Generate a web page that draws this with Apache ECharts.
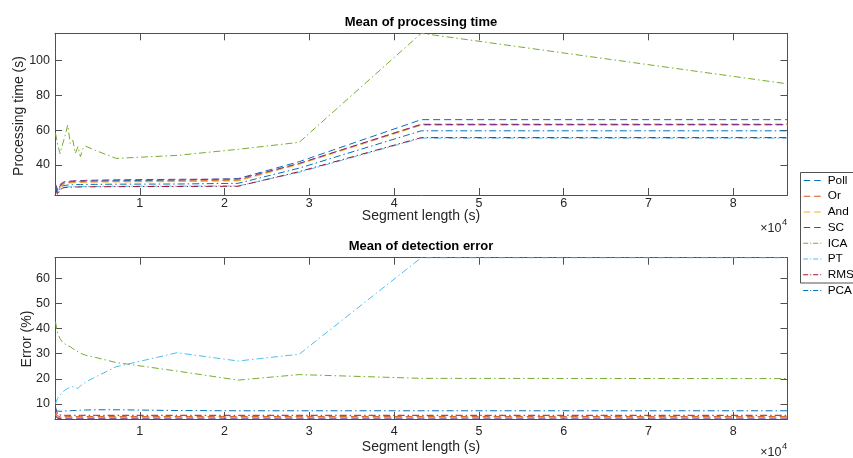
<!DOCTYPE html>
<html>
<head>
<meta charset="utf-8">
<script src="https://cdn.jsdelivr.net/npm/echarts@6/dist/echarts.min.js"></script>
<style>
  html, body { margin: 0; padding: 0; background: #fff; }
  #chart { width: 853px; height: 458px; }
</style>
</head>
<body>
<div id="chart"></div>
<script>
// Segment lengths in seconds (shared x values of both panels)
const segLen = [60, 300, 600, 900, 1200, 1500, 1800, 2100, 2400, 2700, 3000, 3300, 3600, 4800, 7200, 14400, 21600, 28800, 43200, 86400];

const methodNames = ['Poll', 'Or', 'And', 'SC', 'ICA', 'PT', 'RMS', 'PCA'];

// Mean processing time (s)
const timePoll = [28.5, 25.0, 28.0, 29.5, 30.0, 30.2, 30.4, 30.5, 30.6, 30.6, 30.7, 30.7, 30.8, 30.9, 31.0, 31.3, 32.2, 41.9, 66.0, 66.0];
const timeOr   = [28.0, 24.5, 27.5, 29.0, 29.6, 29.8, 30.0, 30.1, 30.2, 30.2, 30.3, 30.3, 30.4, 30.5, 30.6, 30.8, 31.2, 40.8, 63.4, 63.4];
const timeAnd  = [27.5, 24.3, 27.2, 28.7, 29.3, 29.5, 29.7, 29.8, 29.9, 29.9, 30.0, 30.0, 30.1, 30.2, 30.3, 30.5, 30.9, 40.4, 62.8, 62.8];
const timeSC   = [29.0, 25.8, 28.8, 30.0, 30.5, 30.7, 30.8, 30.9, 31.0, 31.0, 31.1, 31.1, 31.2, 31.3, 31.5, 31.8, 31.9, 40.9, 63.2, 63.2];
const timeICA  = [58.2, 52.0, 46.5, 52.0, 57.0, 62.9, 52.4, 54.3, 46.7, 50.5, 44.8, 49.5, 50.8, 48.3, 43.8, 45.5, 49.0, 53.0, 115.5, 86.5];
const timePT   = [26.5, 23.5, 26.0, 27.0, 27.3, 27.4, 27.5, 27.5, 27.6, 27.6, 27.6, 27.7, 27.7, 27.7, 27.8, 27.9, 28.0, 35.8, 55.4, 55.4];
const timeRMS  = [27.0, 22.8, 25.8, 26.8, 27.1, 27.2, 27.3, 27.3, 27.4, 27.4, 27.4, 27.5, 27.5, 27.5, 27.6, 27.7, 27.8, 36.2, 55.7, 55.7];
const timePCA  = [27.5, 24.0, 27.0, 28.0, 28.3, 28.5, 28.6, 28.7, 28.7, 28.8, 28.8, 28.8, 28.9, 28.9, 29.0, 29.1, 29.5, 38.2, 59.6, 59.6];

// Mean detection error (%)
const errPoll = [5.6, 4.6, 4.5, 4.5, 4.5, 4.5, 4.5, 4.5, 4.5, 4.5, 4.5, 4.5, 4.5, 4.5, 4.5, 4.5, 4.5, 4.5, 4.5, 4.5];
const errOr   = [6.5, 5.2, 5.0, 5.0, 5.0, 5.0, 5.0, 5.0, 5.0, 5.0, 5.0, 5.0, 5.0, 5.0, 5.0, 5.0, 5.0, 5.0, 5.0, 5.0];
const errAnd  = [5.9, 4.8, 4.7, 4.7, 4.7, 4.7, 4.7, 4.7, 4.7, 4.7, 4.7, 4.7, 4.7, 4.7, 4.7, 4.7, 4.7, 4.7, 4.7, 4.7];
const errSC   = [5.2, 4.3, 4.2, 4.2, 4.1, 4.1, 4.1, 4.1, 4.1, 4.1, 4.1, 4.1, 4.1, 4.1, 4.1, 4.05, 4.05, 4.05, 4.03, 4.03];
const errICA  = [42.7, 38.1, 36.0, 34.5, 33.8, 33.2, 32.8, 32.0, 31.5, 30.8, 30.2, 29.8, 29.4, 28.5, 26.5, 23.1, 19.5, 21.7, 20.2, 20.1];
const errPT   = [10.2, 12.2, 13.6, 14.8, 15.6, 16.2, 16.6, 16.9, 16.5, 16.2, 17.2, 18.0, 18.7, 20.8, 24.8, 30.4, 27.1, 29.8, 68.2, 68.2];
const errRMS  = [8.8, 5.8, 5.6, 5.6, 5.5, 5.5, 5.5, 5.5, 5.5, 5.5, 5.5, 5.5, 5.5, 5.5, 5.5, 5.5, 5.5, 5.5, 5.5, 5.5];
const errPCA  = [7.7, 7.2, 7.1, 7.1, 7.2, 7.3, 7.3, 7.4, 7.4, 7.5, 7.5, 7.6, 7.6, 7.7, 7.7, 7.4, 7.3, 7.3, 7.3, 7.3];

// Tick positions and labels
const xTickValues = [10000, 20000, 30000, 40000, 50000, 60000, 70000, 80000];
const xTickLabels = ['1', '2', '3', '4', '5', '6', '7', '8'];
const timeTickValues = [40, 60, 80, 100];
const errTickValues = [10, 20, 30, 40, 50, 60];

const timeData = [timePoll, timeOr, timeAnd, timeSC, timeICA, timePT, timeRMS, timePCA];
const errData = [errPoll, errOr, errAnd, errSC, errICA, errPT, errRMS, errPCA];

const palette = ['#0072BD', '#D95319', '#EDB120', '#7E2F8E', '#77AC30', '#4DBEEE', '#A2142F', '#0072BD'];
const dashed = [7, 4];
const dashDot = [7, 3, 1.5, 3];
const lineTypes = [dashed, dashed, dashed, dashed, dashDot, dashDot, dashDot, dashDot];

// Legend keys: short line segments drawn as thin filled bars in a 20x10 box
// (tiny corner specks keep the path's bounding box at the full key size)
const KEY_FRAME = 'M0,0h0.01v0.01h-0.01zM19.99,9.99h0.01v0.01h-0.01z';
const dashedKey = 'path://' + KEY_FRAME + 'M1,4.5h6.5v1h-6.5zM11.5,4.5h6.5v1h-6.5z';
const dashDotKey = 'path://' + KEY_FRAME + 'M0.5,4.5h5v1h-5zM7.5,4.5h1v1h-1zM10.5,4.5h5v1h-5zM17.5,4.5h1v1h-1z';
const keyIcons = [dashedKey, dashedKey, dashedKey, dashedKey, dashDotKey, dashDotKey, dashDotKey, dashDotKey];

const FONT = '"Liberation Sans", Arial, Helvetica, sans-serif';
const AXIS_COLOR = '#505050';
const TEXT_COLOR = '#262626';

function xAxisDef(gridIndex, position, showLabel, labelMargin) {
  return {
    type: 'value', gridIndex, position,
    min: 0, max: 86400,
    axisLine: { show: true, onZero: false, lineStyle: { color: AXIS_COLOR, width: 1 } },
    axisTick: { show: true, inside: true, length: 7, customValues: xTickValues, lineStyle: { color: AXIS_COLOR, width: 1 } },
    axisLabel: {
      show: showLabel, customValues: xTickValues, margin: labelMargin,
      formatter: v => xTickLabels[xTickValues.indexOf(v)] || '',
      fontSize: 12.5, color: TEXT_COLOR, fontFamily: FONT
    },
    splitLine: { show: false }
  };
}

function yAxisDef(gridIndex, position, showLabel, min, max, ticks) {
  return {
    type: 'value', gridIndex, position,
    min, max,
    axisLine: { show: true, onZero: false, lineStyle: { color: AXIS_COLOR, width: 1 } },
    axisTick: { show: true, inside: true, length: 7, customValues: ticks, lineStyle: { color: AXIS_COLOR, width: 1 } },
    axisLabel: {
      show: showLabel, customValues: ticks, margin: 5,
      fontSize: 12.5, color: TEXT_COLOR, fontFamily: FONT
    },
    splitLine: { show: false }
  };
}

const series = [];
methodNames.forEach((name, i) => {
  [[timeData[i], 0], [errData[i], 2]].forEach(([vals, axisIdx]) => {
    series.push({
      name, type: 'line',
      xAxisIndex: axisIdx, yAxisIndex: axisIdx,
      data: segLen.map((x, k) => [x, vals[k]]),
      symbol: 'none', showSymbol: false,
      lineStyle: { color: palette[i], width: 1, type: lineTypes[i] },
      itemStyle: { color: palette[i] },
      clip: true, silent: true
    });
  });
});

function label(text, x, y, opts) {
  return Object.assign({
    type: 'text', x, y,
    style: Object.assign({
      text, fill: TEXT_COLOR, font: '14px ' + FONT,
      textAlign: 'center', textVerticalAlign: 'middle'
    }, opts && opts.style)
  }, opts && opts.el);
}

const chart = echarts.init(document.getElementById('chart'), null, { renderer: 'canvas' });
chart.setOption({
  animation: false,
  backgroundColor: '#ffffff',
  grid: [
    { left: 55, top: 33.3, width: 732.5, height: 161.7 },
    { left: 55, top: 257.7, width: 732.5, height: 161.3 }
  ],
  xAxis: [
    xAxisDef(0, 'bottom', true, 2.5), xAxisDef(0, 'top', false, 0),
    xAxisDef(1, 'bottom', true, 6), xAxisDef(1, 'top', false, 0)
  ],
  yAxis: [
    yAxisDef(0, 'left', true, 22.8, 115.5, timeTickValues), yAxisDef(0, 'right', false, 22.8, 115.5, timeTickValues),
    yAxisDef(1, 'left', true, 4.03, 68.2, errTickValues), yAxisDef(1, 'right', false, 4.03, 68.2, errTickValues)
  ],
  legend: {
    orient: 'vertical', left: 800, top: 172,
    data: methodNames.map((name, i) => ({ name, icon: keyIcons[i] })),
    itemWidth: 20, itemHeight: 10, itemGap: 3.7,
    padding: [2.5, 2, 2.5, 2.7],
    borderWidth: 0,
    itemStyle: { borderWidth: 0 },
    textStyle: { fontSize: 11.8, color: '#000', fontFamily: FONT },
    selectedMode: false
  },
  graphic: [
    {
      type: 'rect', z: -1,
      shape: { x: 800.5, y: 172.5, width: 80, height: 110.5 },
      style: { fill: '#ffffff', stroke: '#262626', lineWidth: 0.8 }
    },
    label('Mean of processing time', 421, 22, { style: { font: 'bold 13px ' + FONT, fill: '#000' } }),
    label('Mean of detection error', 421, 246.4, { style: { font: 'bold 13px ' + FONT, fill: '#000' } }),
    label('Processing time (s)', 18.8, 116, { el: { rotation: Math.PI / 2 } }),
    label('Error (%)', 26.7, 339, { el: { rotation: Math.PI / 2 } }),
    label('Segment length (s)', 421, 216),
    label('Segment length (s)', 421, 447.5),
    label('×10', 781.5, 228.5, { style: { textAlign: 'right', font: '12.5px ' + FONT } }),
    label('4', 782, 222, { style: { textAlign: 'left', font: '9.5px ' + FONT } }),
    label('×10', 781.5, 452.5, { style: { textAlign: 'right', font: '12.5px ' + FONT } }),
    label('4', 782, 446, { style: { textAlign: 'left', font: '9.5px ' + FONT } })
  ],
  series
});
</script>
</body>
</html>
